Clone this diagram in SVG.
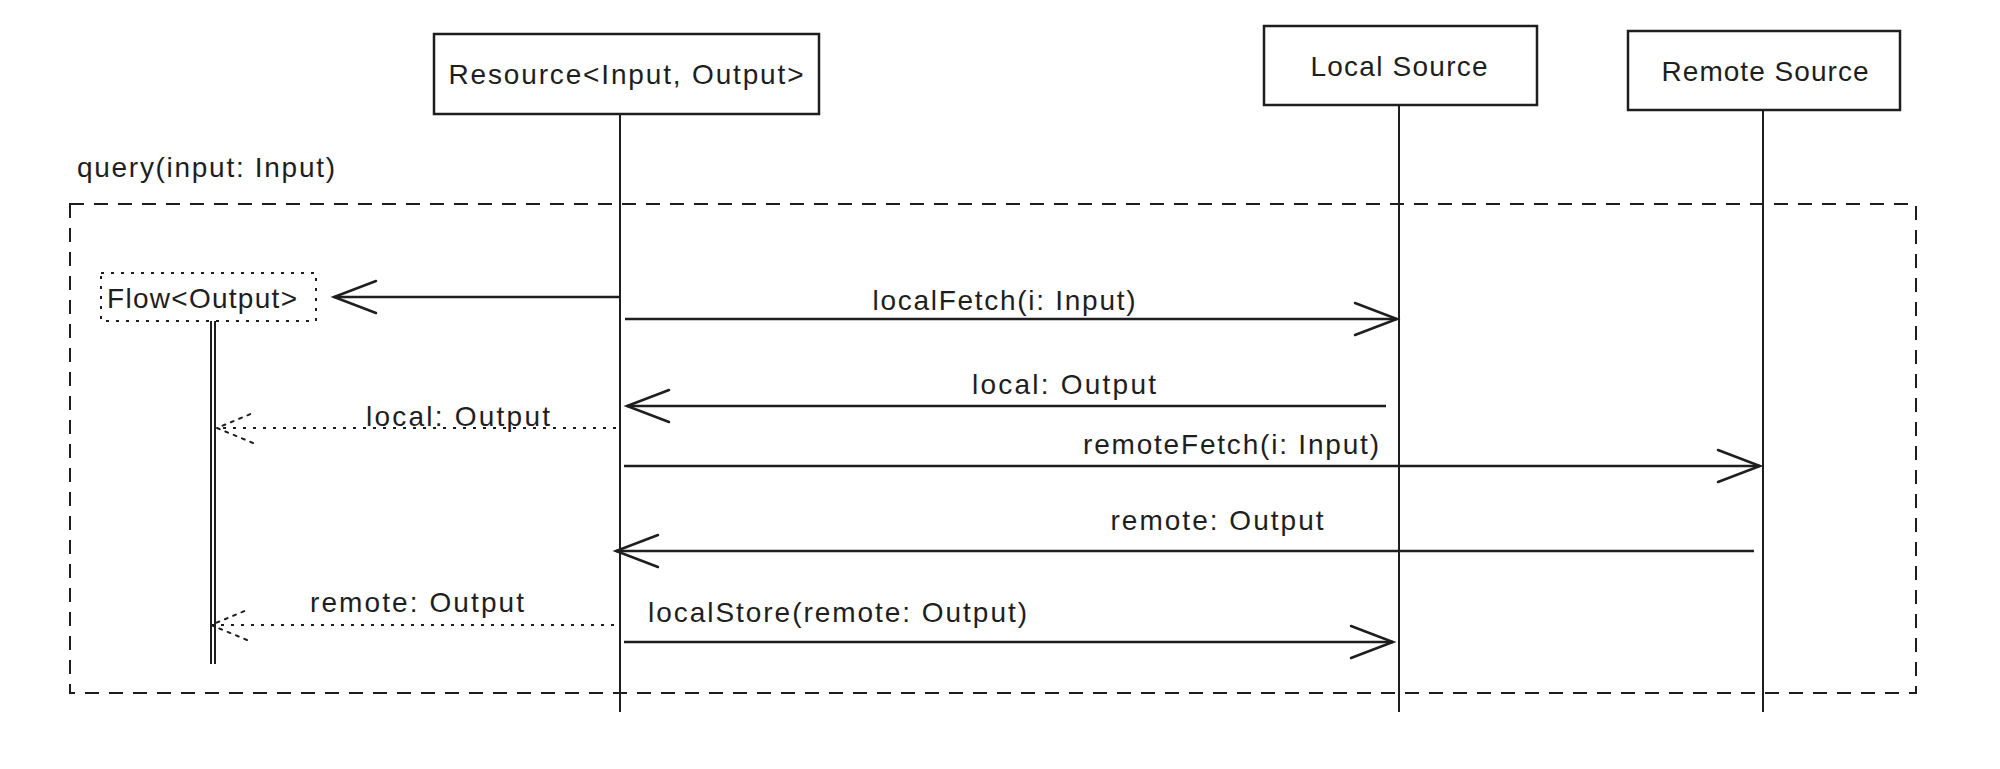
<svg xmlns="http://www.w3.org/2000/svg" width="2000" height="769" viewBox="0 0 2000 769">
<style>
text{font-family:"Liberation Sans",Arial,sans-serif;font-size:28px;fill:#1e1e1e;dominant-baseline:central}
.box{fill:#fff;stroke:#1e1e1e;stroke-width:2.5}
.life{stroke:#1e1e1e;stroke-width:2;fill:none}
.msg{stroke:#1e1e1e;stroke-width:2.5;fill:none}
.ret{stroke:#1e1e1e;stroke-width:2;fill:none;stroke-dasharray:3 7}
</style>
<defs>
<marker id="open" markerUnits="userSpaceOnUse" markerWidth="60" markerHeight="50" refX="0" refY="0" viewBox="-50 -25 60 50" orient="auto" overflow="visible">
<path d="M-42,-16 L0,0 L-42,16" fill="none" stroke="#1e1e1e" stroke-width="2.5" stroke-linecap="round"/>
</marker>
<marker id="openDot" markerUnits="userSpaceOnUse" markerWidth="50" markerHeight="40" refX="0" refY="0" viewBox="-40 -20 50 40" orient="auto" overflow="visible">
<path d="M-36,-15 L0,0 L-36,15" fill="none" stroke="#1e1e1e" stroke-width="2" stroke-dasharray="3 6" stroke-linecap="round"/>
</marker>
</defs>
<rect width="2000" height="769" fill="#fff"/>

<g id="frame">
<rect x="70" y="204" width="1846" height="489" fill="none" stroke="#1e1e1e" stroke-width="2" stroke-dasharray="14 10"/>
<text x="77" y="167" textLength="258">query(input: Input)</text>
</g>

<g id="lifelines">
<line class="life" x1="620" y1="114" x2="620" y2="712"/>
<line class="life" x1="1399" y1="105" x2="1399" y2="712"/>
<line class="life" x1="1763" y1="110" x2="1763" y2="712"/>
<line class="life" x1="211" y1="321" x2="211" y2="664" stroke-width="1.5"/>
<line class="life" x1="215" y1="321" x2="215" y2="664" stroke-width="1.5"/>
</g>

<g id="resource">
<rect class="box" x="434" y="34" width="385" height="80"/>
<text x="626" y="74" text-anchor="middle" textLength="355">Resource&lt;Input, Output&gt;</text>
</g>

<g id="local-source">
<rect class="box" x="1264" y="26" width="273" height="79"/>
<text x="1399" y="66" text-anchor="middle" textLength="177">Local Source</text>
</g>

<g id="remote-source">
<rect class="box" x="1628" y="31" width="272" height="79"/>
<text x="1765" y="71" text-anchor="middle" textLength="207">Remote Source</text>
</g>

<g id="flow">
<rect x="101" y="273" width="215" height="48" fill="#fff" stroke="#1e1e1e" stroke-width="2" stroke-dasharray="3 7"/>
<text x="202" y="298" text-anchor="middle" textLength="190">Flow&lt;Output&gt;</text>
</g>

<g id="connectors">
<line class="msg" x1="620" y1="297" x2="334" y2="297" marker-end="url(#open)"/>

<line class="msg" x1="625" y1="319" x2="1397" y2="319" marker-end="url(#open)"/>
<text x="1004" y="300" text-anchor="middle" textLength="263">localFetch(i: Input)</text>

<line class="msg" x1="1386" y1="406" x2="627" y2="406" marker-end="url(#open)"/>
<text x="1064" y="384" text-anchor="middle" textLength="184">local: Output</text>

<line class="ret" x1="616" y1="428" x2="217" y2="428" marker-end="url(#openDot)"/>
<text x="458" y="416" text-anchor="middle" textLength="184">local: Output</text>

<line class="msg" x1="624" y1="466" x2="1760" y2="466" marker-end="url(#open)"/>
<text x="1231" y="444" text-anchor="middle" textLength="296">remoteFetch(i: Input)</text>

<line class="msg" x1="1754" y1="551" x2="616" y2="551" marker-end="url(#open)"/>
<text x="1217" y="520" text-anchor="middle" textLength="213">remote: Output</text>

<line class="ret" x1="614" y1="625" x2="211" y2="625" marker-end="url(#openDot)"/>
<text x="417" y="602" text-anchor="middle" textLength="214">remote: Output</text>

<line class="msg" x1="624" y1="642" x2="1393" y2="642" marker-end="url(#open)"/>
<text x="648" y="612" textLength="379">localStore(remote: Output)</text>
</g>
</svg>
